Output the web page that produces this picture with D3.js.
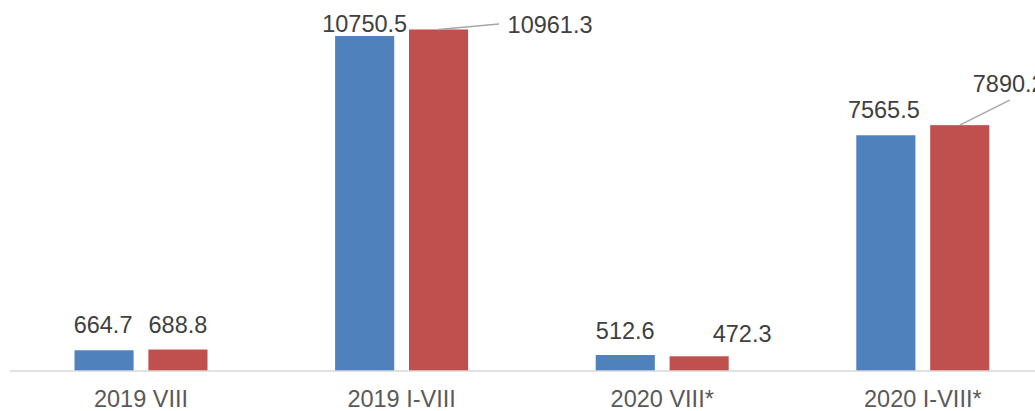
<!DOCTYPE html>
<html>
<head>
<meta charset="utf-8">
<script src="https://cdn.jsdelivr.net/npm/d3@7"></script>
<style>
  body { margin: 0; background: #fff; }
  svg { display: block; font-family: "Liberation Sans", Arial, sans-serif; }
</style>
</head>
<body>
<svg id="chart"></svg>
<script>
// categories and series
var categories = ['2019 VIII', '2019 I-VIII', '2020 VIII*', '2020 I-VIII*'];
var seriesNames = ['a', 'b'];
var seriesA = [664.7, 10750.5, 512.6, 7565.5];
var seriesB = [688.8, 10961.3, 472.3, 7890.2];
var colors = ['#4f81bd', '#c0504d'];

// label placement (manual offsets from bar top centre), leader line ends
var labelOffA = [[-1, -17], [0, -4], [0, -16], [-2, -17]];
var labelOffB = [[0, -17], [111.5, 3.5], [43, -14], [49, -33]];
var leaderB = [null, [60.5, -5.4], null, [50, -25]];

var width = 1035, height = 411;
var svg = d3.select('#chart').attr('width', width).attr('height', height);

var x0 = d3.scaleBand().domain(categories).range([10.7, 1053.1]).padding(0);
var x1 = d3.scaleBand().domain(seriesNames).range([0, 133]).paddingInner(0.2);
var y = d3.scaleLinear().domain([0, 12000]).range([371, -2.9]);

var rows = categories.map(function (c, i) {
  return [
    {cat: c, s: 'a', v: seriesA[i], off: labelOffA[i], lead: null, color: colors[0]},
    {cat: c, s: 'b', v: seriesB[i], off: labelOffB[i], lead: leaderB[i], color: colors[1]}
  ];
});

function barX(d) {
  return x0(d.cat) + x0.bandwidth() / 2 - 66.5 + x1(d.s);
}
function barMid(d) {
  return barX(d) + x1.bandwidth() / 2;
}

var groups = svg.selectAll('g.grp').data(rows).enter().append('g').attr('class', 'grp');

groups.selectAll('rect').data(function (d) { return d; }).enter()
  .append('rect')
  .attr('x', barX)
  .attr('y', function (d) { return y(d.v); })
  .attr('width', x1.bandwidth())
  .attr('height', function (d) { return y(0) - y(d.v); })
  .attr('fill', function (d) { return d.color; });

// leader lines for the moved labels
groups.selectAll('line.leader').data(function (d) {
  return d.filter(function (e) { return e.lead; });
}).enter()
  .append('line')
  .attr('class', 'leader')
  .attr('x1', barMid)
  .attr('y1', function (d) { return y(d.v); })
  .attr('x2', function (d) { return barMid(d) + d.lead[0]; })
  .attr('y2', function (d) { return y(d.v) + d.lead[1]; })
  .attr('stroke', '#a6a6a6')
  .attr('stroke-width', 1.5);

groups.selectAll('text').data(function (d) { return d; }).enter()
  .append('text')
  .attr('x', function (d) { return barMid(d) + d.off[0]; })
  .attr('y', function (d) { return y(d.v) + d.off[1]; })
  .attr('text-anchor', 'middle')
  .attr('font-size', '23.5px')
  .attr('fill', '#404040')
  .text(function (d) { return d.v.toFixed(1); });

// axis
var axis = svg.append('g').attr('transform', 'translate(0,371)')
  .call(d3.axisBottom(x0).tickSize(0).tickPadding(0));
axis.select('.domain').remove();
axis.append('line')
  .attr('x1', 10).attr('x2', 1035)
  .attr('stroke', '#d9d9d9').attr('stroke-width', 1.5);
axis.selectAll('.tick text')
  .attr('y', 36)
  .attr('dy', 0)
  .attr('font-size', '23.5px')
  .attr('font-family', '"Liberation Sans", Arial, sans-serif')
  .attr('fill', '#595959');
</script>
</body>
</html>
